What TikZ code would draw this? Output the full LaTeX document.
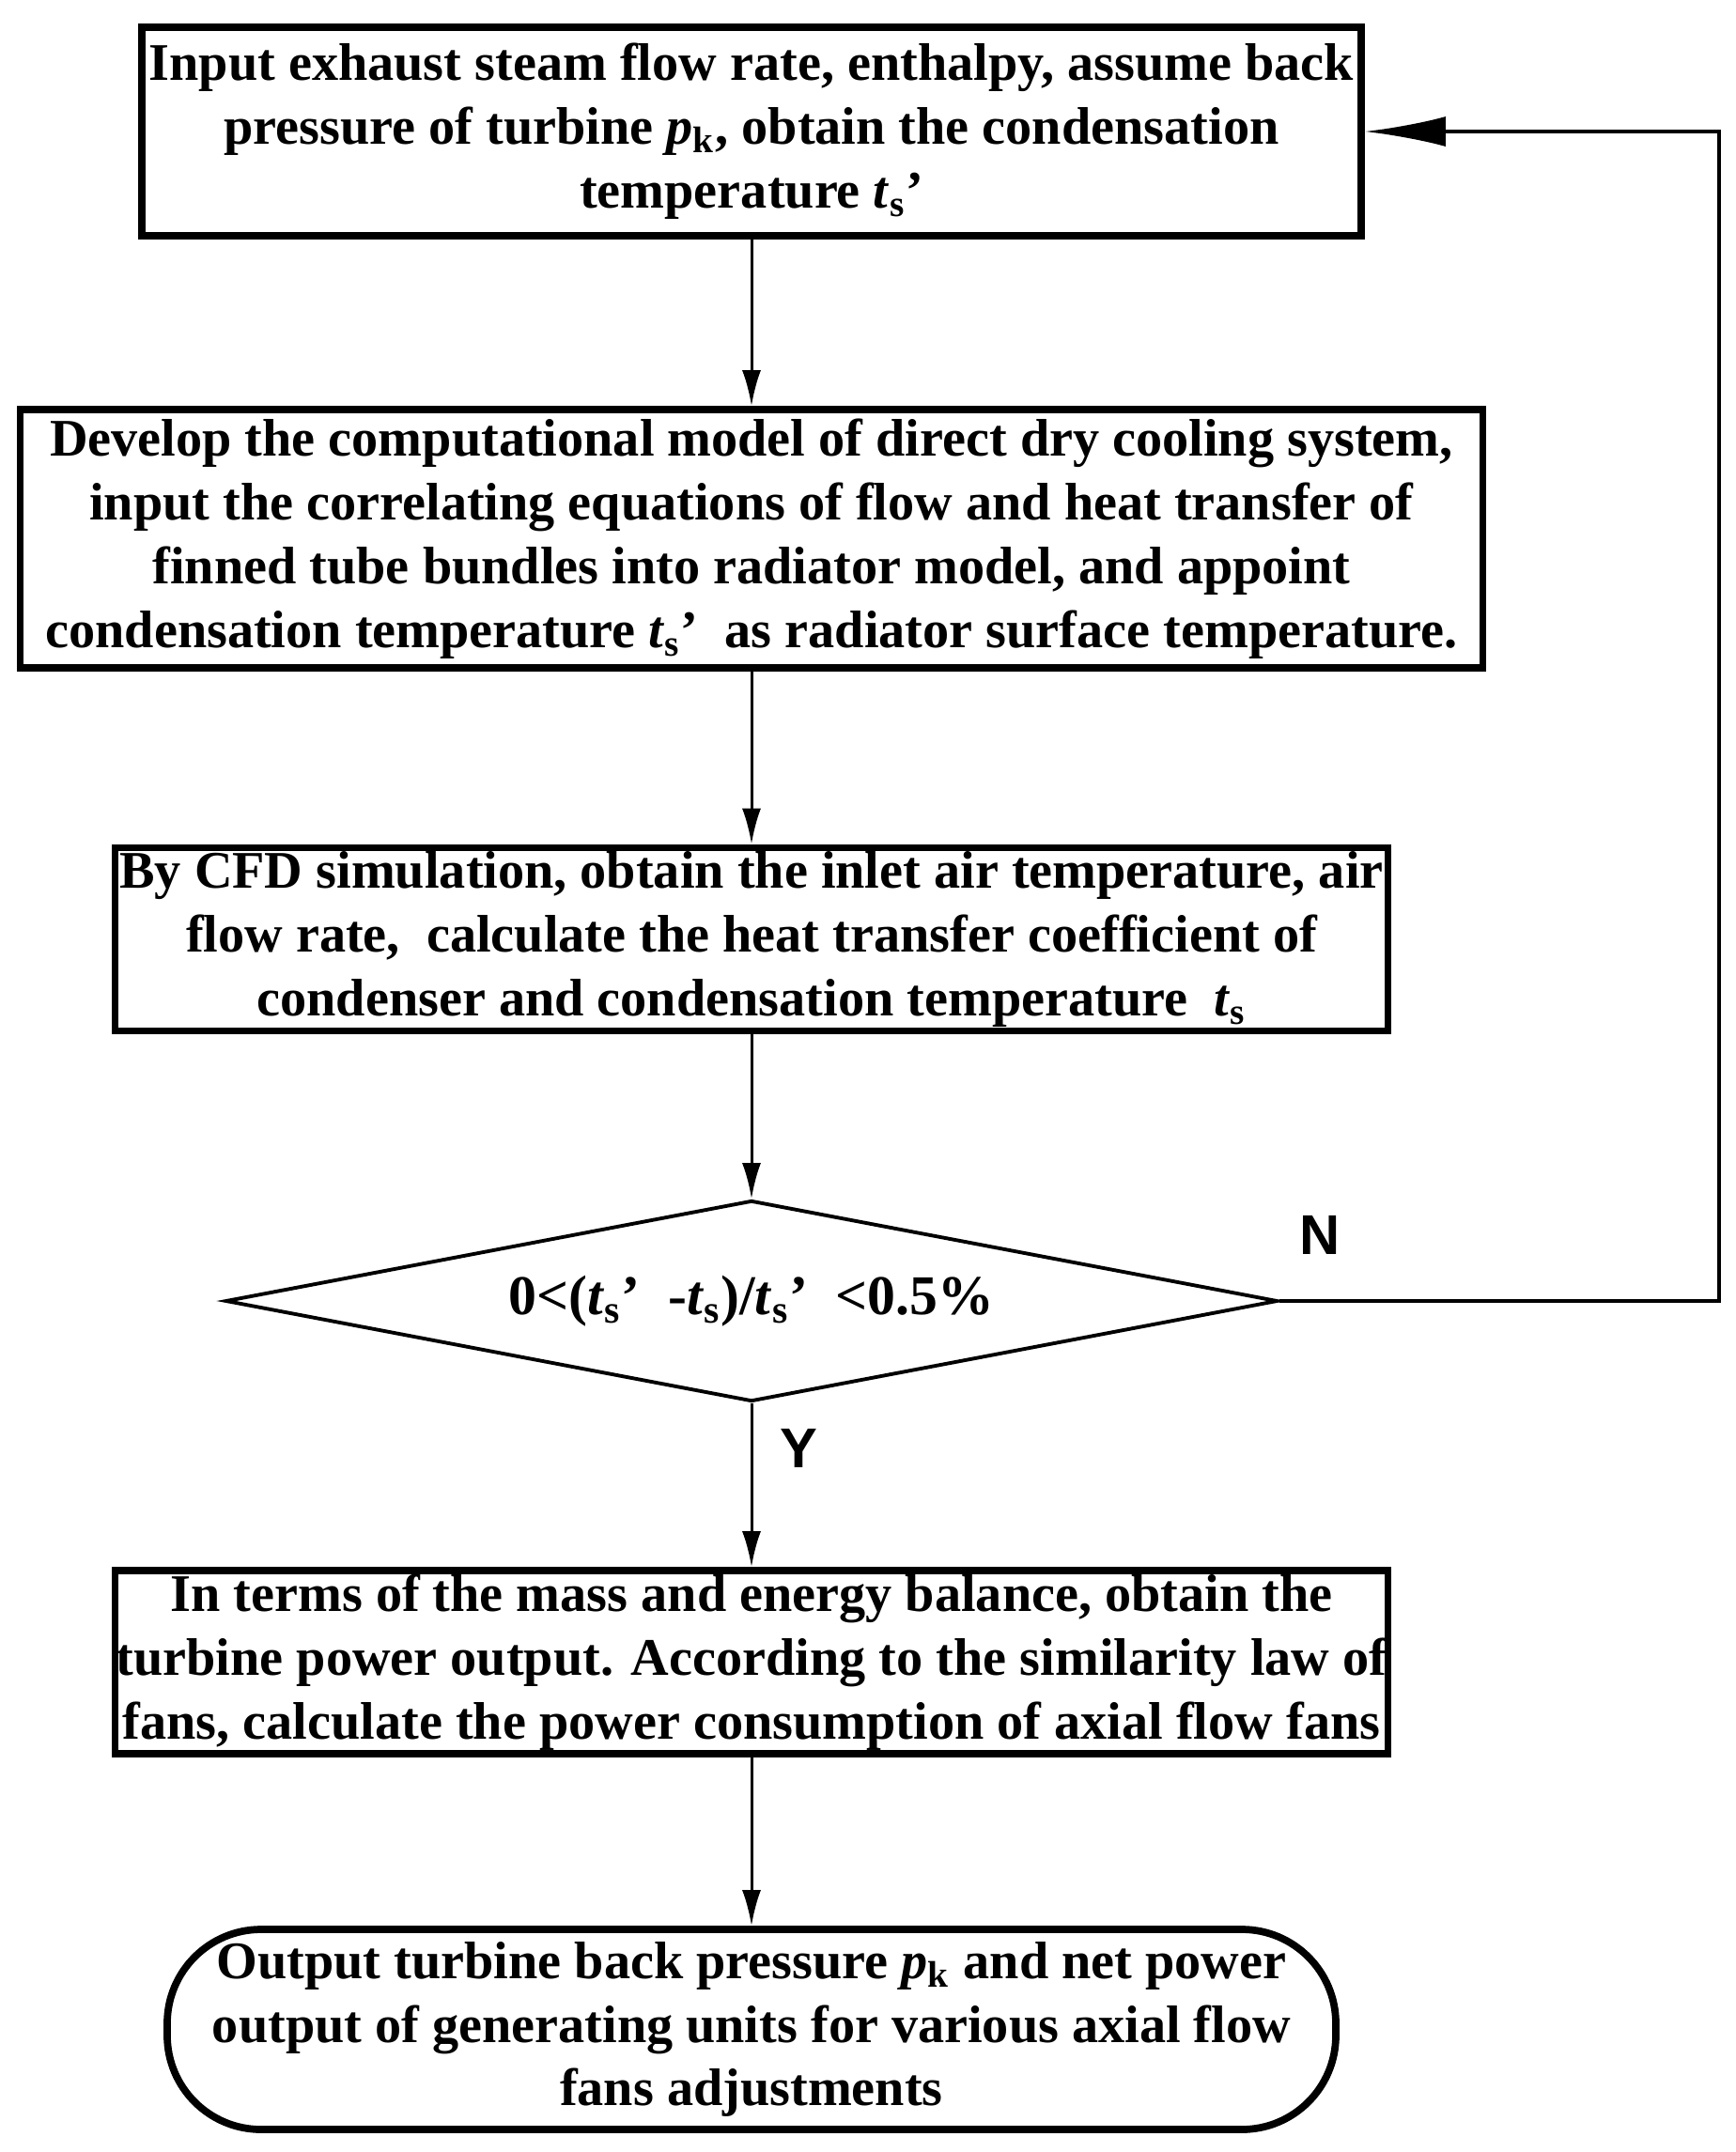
\documentclass[tikz,border=0pt]{standalone}
\usepackage{fontspec}
\setmainfont{Liberation Serif}
\newfontfamily\yesnofont{Liberation Sans}
\usetikzlibrary{shapes.geometric,arrows.meta,positioning}

\newcommand{\tsym}{\textit{t}\textsubscript{s}}
\newcommand{\psym}{\textit{p}\textsubscript{k}}

\begin{document}
\begin{tikzpicture}[
        proc/.style={draw, line width=2.2pt, align=center, inner sep=0, font=\fontsize{16}{19.3}\selectfont\bfseries},
        decide/.style={draw, diamond, shape aspect=5.2, line width=1.1pt, inner sep=0, font=\fontsize{17}{20}\selectfont\bfseries},
        term/.style={proc, rounded corners=1cm},
        yn/.style={font=\yesnofont\fontsize{17}{20}\selectfont\bfseries, inner sep=0},
        >={Latex[length=0.38cm, width=0.2cm]},
        flow/.style={->, line width=0.85pt},
        back/.style={line width=1.2pt, -{Latex[length=0.86cm, width=0.32cm]}}
    ]
        \useasboundingbox (0,0) rectangle (18.48,-22.91);

        \node[proc, minimum width=12.98cm, minimum height=2.22cm] (1) at (8,-1.40)
            {Input exhaust steam flow rate, enthalpy, assume back\\
             pressure of turbine \psym, obtain the condensation\\
             temperature \tsym'};
        \node[proc, minimum width=15.57cm, minimum height=2.75cm] (2) at (8,-5.735)
            {Develop the computational model of direct dry cooling system,\\
             input the correlating equations of flow and heat transfer of\\
             finned tube bundles into radiator model, and appoint\\
             condensation temperature \tsym'\ \ as radiator surface temperature.};
        \node[proc, minimum width=13.55cm, minimum height=1.95cm] (3) at (8,-10.0)
            {By CFD simulation, obtain the inlet air temperature, air\\
             flow rate,\ \ calculate the heat transfer coefficient of\\
             condenser and condensation temperature\ \ \tsym};
        \node[decide, minimum width=11.2cm, minimum height=2.14cm] (4) at (8,-13.85)
            {0<(\tsym'\ \ -\tsym)/\tsym'\ \ <0.5\%};
        \node[proc, minimum width=13.55cm, minimum height=1.95cm] (5) at (8,-17.695)
            {In terms of the mass and energy balance, obtain the\\
             turbine power output. According to the similarity law of\\
             fans, calculate the power consumption of axial flow fans};
        \node[term, minimum width=12.44cm, minimum height=2.13cm] (6) at (8,-21.605)
            {Output turbine back pressure \psym{} and net power\\
             output of generating units for various axial flow\\
             fans adjustments};

        \node[yn] (n) at (14.05,-13.15) {N};
        \node[yn] (y) at (8.5,-15.42) {Y};

        \draw[flow] (1) -- (2);
        \draw[flow] (2) -- (3);
        \draw[flow] (3) -- (4);
        \draw[flow] (4) -- (5);
        \draw[flow] (5) -- (6);

        % back to the start when the check fails
        \coordinate (loop) at (18.30,-13.85);
        \draw[back] (4.east) -- (loop) |- (1.east);
    \end{tikzpicture}
\end{document}
